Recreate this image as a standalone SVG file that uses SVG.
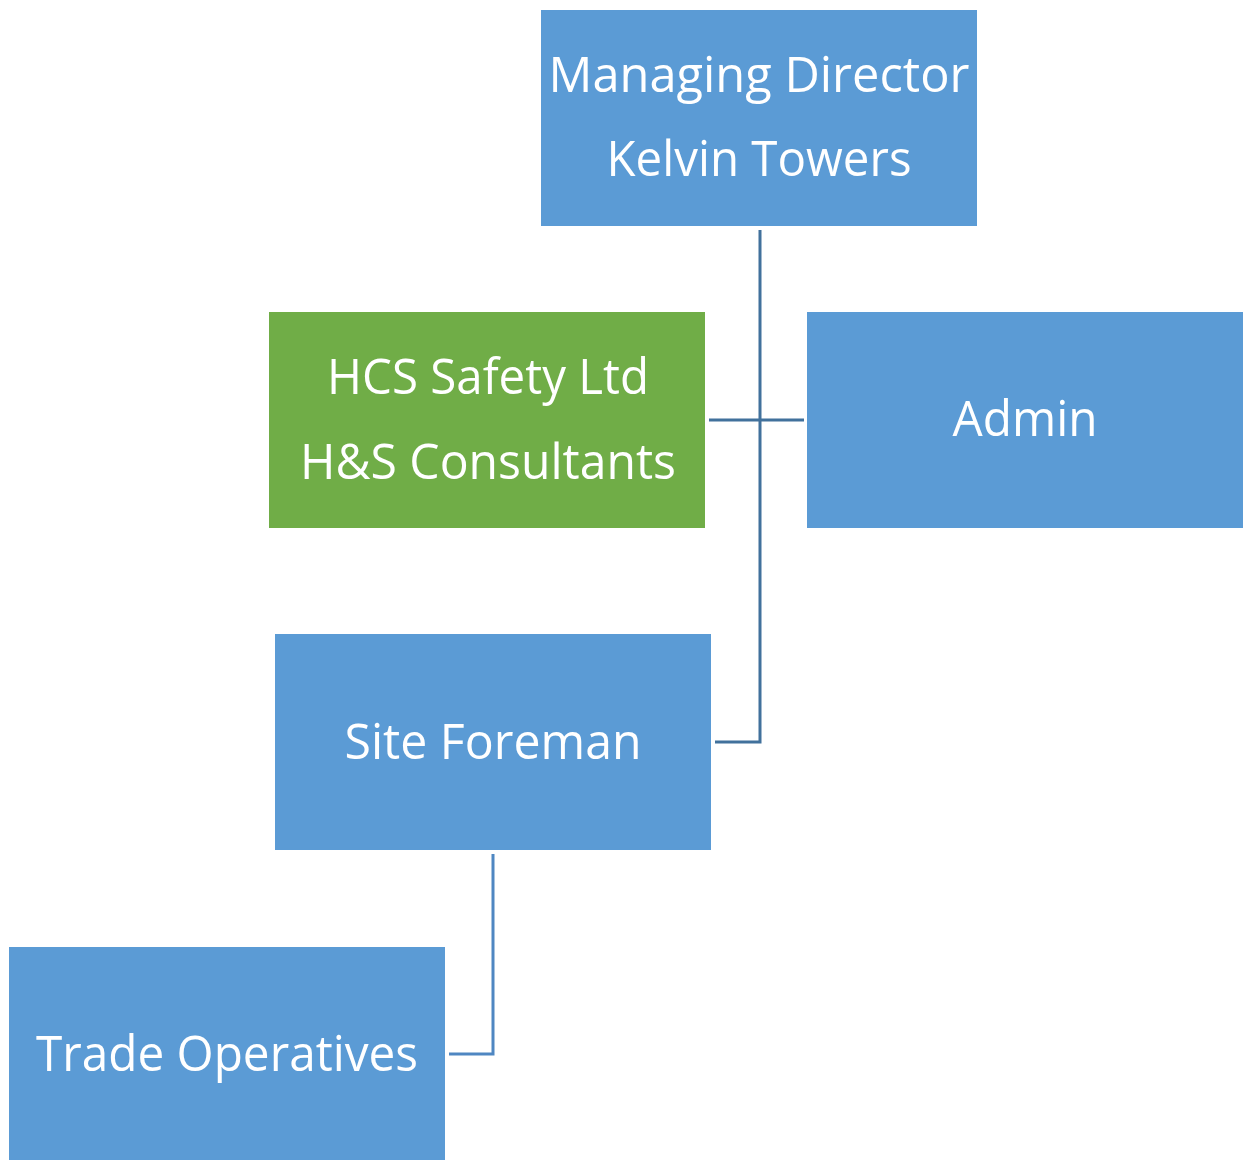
<svg xmlns="http://www.w3.org/2000/svg" width="1243" height="1160" viewBox="0 0 1243 1160">
<style>
.box{fill:#5B9BD5}
.green{fill:#70AD47}
.t{font-family:"Open Sans","Liberation Sans",sans-serif;font-size:50px;fill:#ffffff;text-anchor:middle}
.c{fill:none;stroke:#41719C;stroke-width:3}
.c2{fill:none;stroke:#4F87C2;stroke-width:3}
</style>
<rect width="1243" height="1160" fill="#ffffff"/>
<g id="connectors">
<path class="c" d="M760 230 V742 H715"/>
<path class="c" d="M709 420 H804"/>
<path class="c2" d="M493 854 V1054 H449"/>
</g>
<g id="managing-director">
<rect class="box" x="541" y="10" width="436" height="216"/>
<text class="t" x="759" y="92" textLength="421" lengthAdjust="spacingAndGlyphs">Managing Director</text>
<text class="t" x="759" y="176" textLength="305" lengthAdjust="spacingAndGlyphs">Kelvin Towers</text>
</g>
<g id="hcs-safety">
<rect class="green" x="269" y="312" width="436" height="216"/>
<text class="t" x="488" y="394" textLength="322" lengthAdjust="spacingAndGlyphs">HCS Safety Ltd</text>
<text class="t" x="488" y="479" textLength="376" lengthAdjust="spacingAndGlyphs">H&amp;S Consultants</text>
</g>
<g id="admin">
<rect class="box" x="807" y="312" width="436" height="216"/>
<text class="t" x="1025" y="436" textLength="145" lengthAdjust="spacingAndGlyphs">Admin</text>
</g>
<g id="site-foreman">
<rect class="box" x="275" y="634" width="436" height="216"/>
<text class="t" x="493" y="759" textLength="297" lengthAdjust="spacingAndGlyphs">Site Foreman</text>
</g>
<g id="trade-operatives">
<rect class="box" x="9" y="947" width="436" height="213"/>
<text class="t" x="227" y="1071" textLength="382" lengthAdjust="spacingAndGlyphs">Trade Operatives</text>
</g>
</svg>
